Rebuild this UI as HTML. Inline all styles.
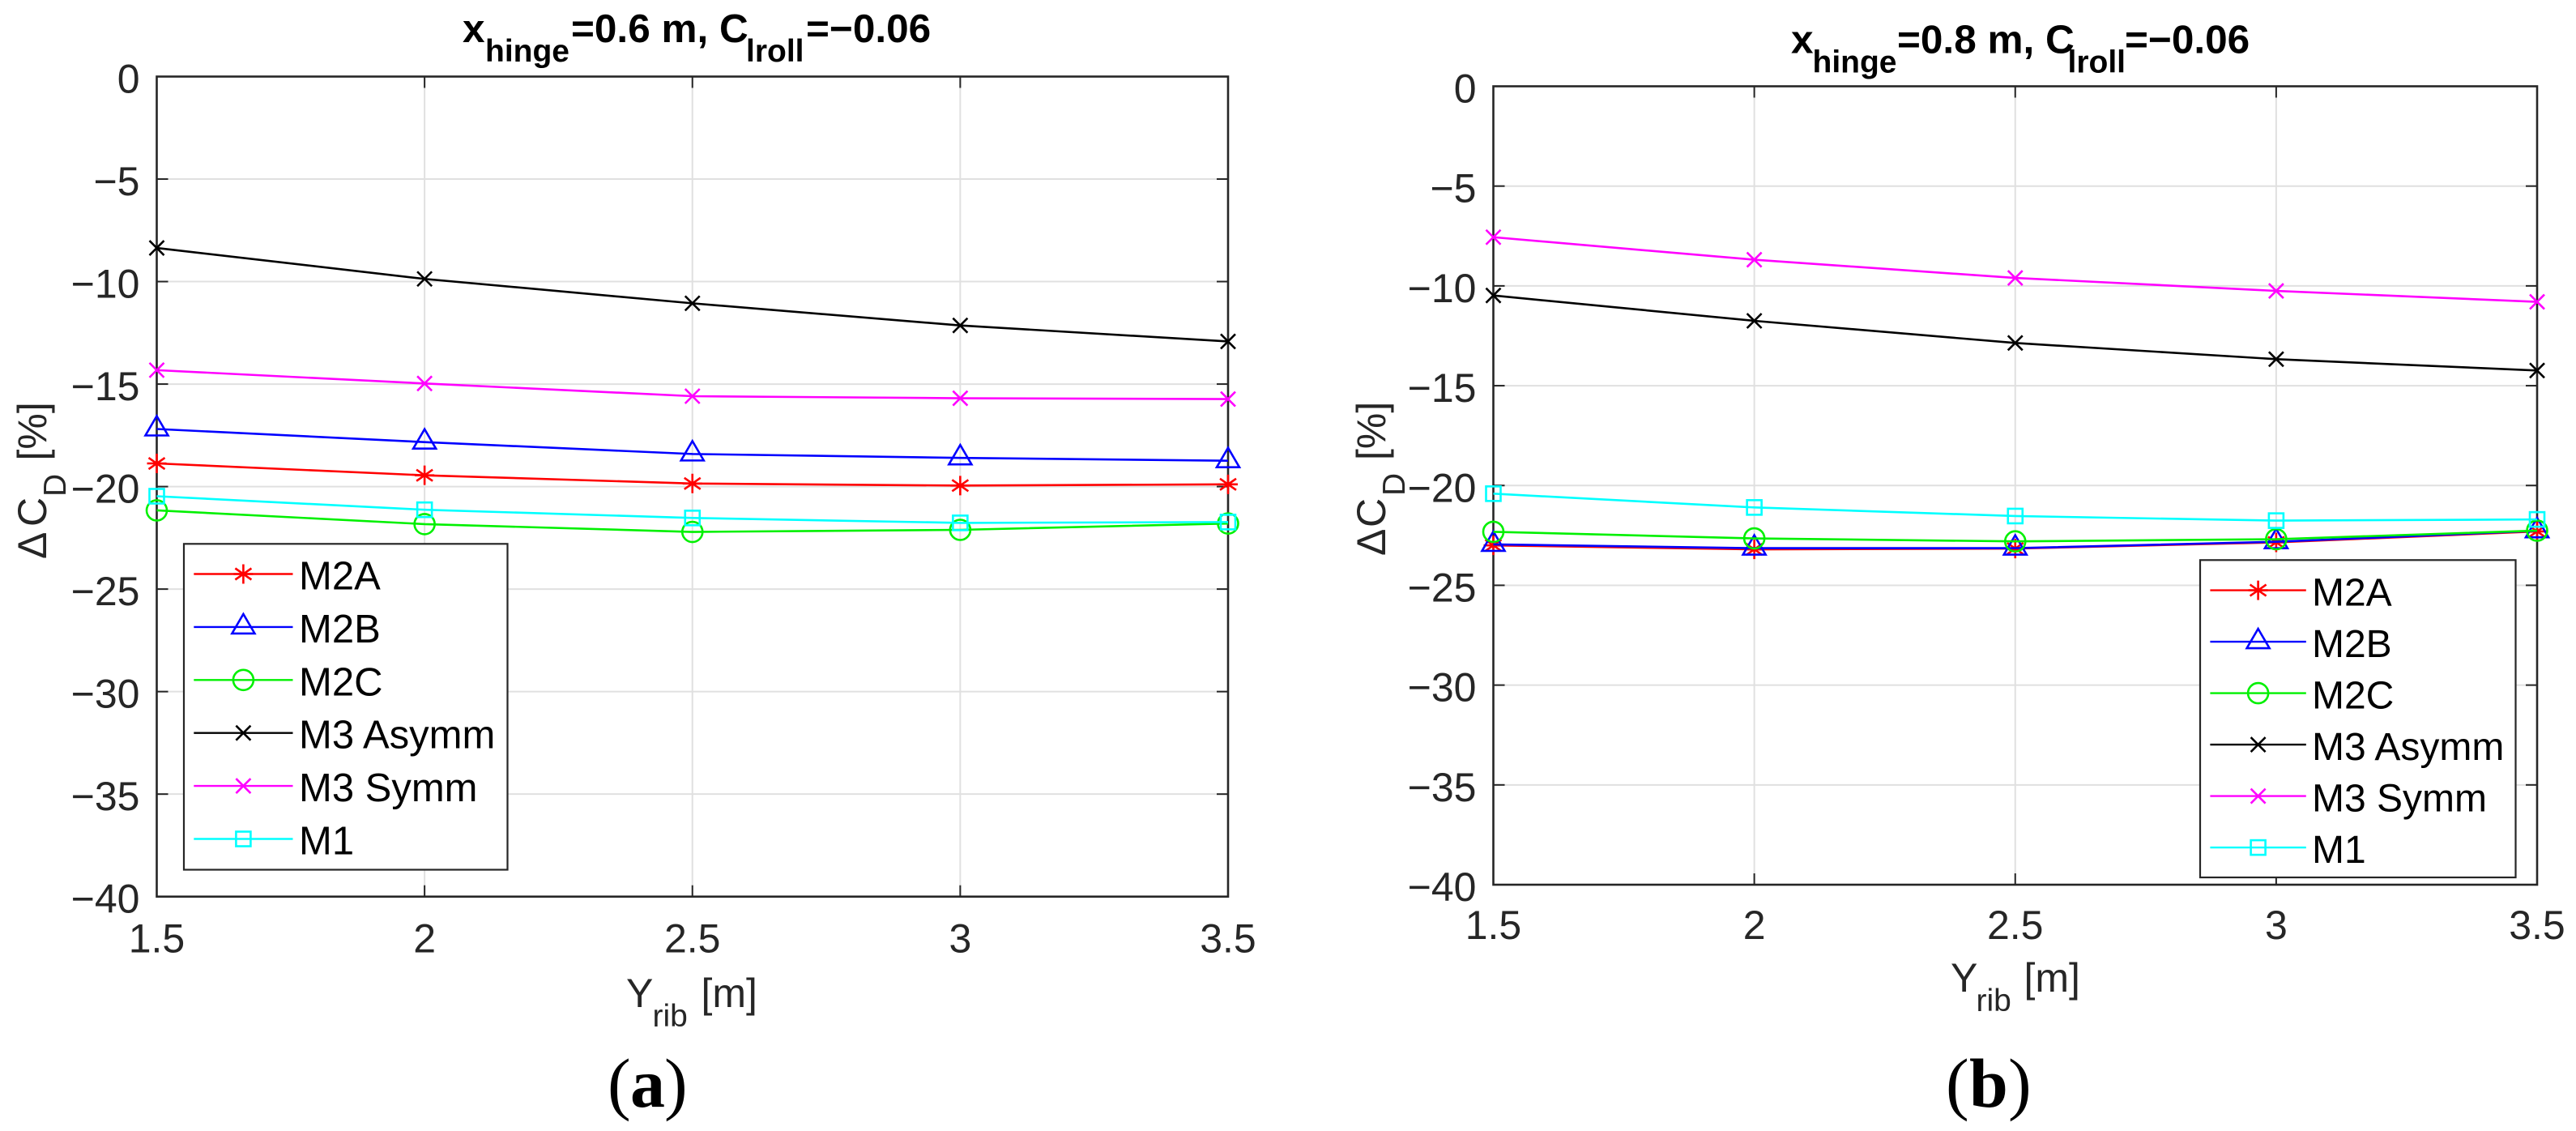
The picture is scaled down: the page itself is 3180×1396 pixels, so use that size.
<!DOCTYPE html>
<html lang="en">
<head>
<meta charset="utf-8">
<title>Delta CD vs Yrib</title>
<style>
  html, body { margin: 0; padding: 0; background: #fff; }
  svg { display: block; }
  text { font-family: "Liberation Sans", sans-serif; fill: #262626; }
  .title { font-weight: bold; font-size: 49.5px; fill: #000; }
  .title-sub { font-weight: bold; font-size: 39px; fill: #000; }
  .lab { font-size: 50px; }
  .lab-sub { font-size: 39px; }
  .cap { font-family: "Liberation Serif", serif; font-size: 86px; fill: #000; }
  .cap-b { font-family: "Liberation Serif", serif; font-size: 86px; font-weight: bold; fill: #000; }
</style>
</head>
<body>
<svg id="figure" xmlns="http://www.w3.org/2000/svg" width="3180" height="1396" viewBox="0 0 3180 1396">
  <rect x="0" y="0" width="3180" height="1396" fill="#ffffff"/>
  <g id="panelA"></g>
  <g id="panelB"></g>

  <g>
    <text class="title" x="571" y="52">x</text>
    <text class="title-sub" x="599" y="76">hinge</text>
    <text class="title" x="705" y="52">=0.6 m, C</text>
    <text class="title-sub" x="921" y="76">lroll</text>
    <text class="title" x="995" y="52">=−0.06</text>
  </g>
  <g>
    <text class="title" x="2211" y="65.7">x</text>
    <text class="title-sub" x="2237.5" y="89.5">hinge</text>
    <text class="title" x="2342" y="65.7">=0.8 m, C</text>
    <text class="title-sub" x="2552.5" y="89.5">lroll</text>
    <text class="title" x="2623" y="65.7">=−0.06</text>
  </g>

  <g>
    <text class="lab" transform="translate(57,690) rotate(-90)">Δ</text>
    <text class="lab" transform="translate(57,650) rotate(-90)">C</text>
    <text class="lab-sub" transform="translate(81,613) rotate(-90)">D</text>
    <text class="lab" transform="translate(57,568.5) rotate(-90)">[%]</text>
  </g>
  <g>
    <text class="lab" transform="translate(1710,686) rotate(-90)">Δ</text>
    <text class="lab" transform="translate(1710,651) rotate(-90)">C</text>
    <text class="lab-sub" transform="translate(1734,612) rotate(-90)">D</text>
    <text class="lab" transform="translate(1710,568) rotate(-90)">[%]</text>
  </g>

  <g>
    <text class="lab" x="773" y="1243">Y</text>
    <text class="lab-sub" x="805.5" y="1267">rib</text>
    <text class="lab" x="865.5" y="1243">[m]</text>
  </g>
  <g>
    <text class="lab" x="2408" y="1224">Y</text>
    <text class="lab-sub" x="2439.5" y="1248">rib</text>
    <text class="lab" x="2498.5" y="1224">[m]</text>
  </g>

  <g>
    <text class="cap" x="750" y="1366">(</text>
    <text class="cap-b" x="778" y="1366">a</text>
    <text class="cap" x="820" y="1366">)</text>
  </g>
  <g>
    <text class="cap" x="2402" y="1366">(</text>
    <text class="cap-b" x="2431" y="1366">b</text>
    <text class="cap" x="2479" y="1366">)</text>
  </g>
</svg>

<script>
const yRibValues = [1.5, 2, 2.5, 3, 3.5];
const xTickLabels = ['1.5', '2', '2.5', '3', '3.5'];
const yTickValues = [0, -5, -10, -15, -20, -25, -30, -35, -40];
const yTickLabels = ['0', '−5', '−10', '−15', '−20', '−25', '−30', '−35', '−40'];
const seriesNames = ['M2A', 'M2B', 'M2C', 'M3 Asymm', 'M3 Symm', 'M1'];
const seriesColors = ['#ff0000', '#0000ff', '#00f000', '#000000', '#ff00ff', '#00ffff'];
const seriesMarkers = ['star', 'triangle', 'circle', 'x', 'x', 'square'];

const panelA_M2A = [-18.87, -19.45, -19.85, -19.95, -19.89];
const panelA_M2B = [-17.19, -17.83, -18.41, -18.60, -18.74];
const panelA_M2C = [-21.16, -21.83, -22.21, -22.11, -21.80];
const panelA_M3Asymm = [-8.36, -9.87, -11.06, -12.14, -12.92];
const panelA_M3Symm = [-14.32, -14.97, -15.59, -15.69, -15.73];
const panelA_M1 = [-20.47, -21.13, -21.53, -21.77, -21.73];

const panelB_M2A = [-23.00, -23.20, -23.16, -22.85, -22.30];
const panelB_M2B = [-22.95, -23.14, -23.14, -22.82, -22.27];
const panelB_M2C = [-22.32, -22.65, -22.80, -22.69, -22.26];
const panelB_M3Asymm = [-10.48, -11.75, -12.86, -13.67, -14.24];
const panelB_M3Symm = [-7.56, -8.69, -9.60, -10.25, -10.80];
const panelB_M1 = [-20.41, -21.10, -21.53, -21.76, -21.70];

const NS = 'http://www.w3.org/2000/svg';
const AXIS_COLOR = '#262626';
const GRID_COLOR = '#e0e0e0';

function make(tag, parent, attrs) {
  const el = document.createElementNS(NS, tag);
  for (const k in attrs) el.setAttribute(k, attrs[k]);
  parent.appendChild(el);
  return el;
}

function drawMarker(parent, kind, cx, cy, color) {
  const g = make('g', parent, { fill: 'none', stroke: color, 'stroke-width': 2.6 });
  
  
  if (kind === 'star') {
    const r = 12;
    const d = 10;
    make('path', g, { d: 'M' + cx + ' ' + (cy - r) + 'V' + (cy + r) + 'M' + (cx - r) + ' ' + cy + 'H' + (cx + r) +
      'M' + (cx - d) + ' ' + (cy - d * 0.7) + 'L' + (cx + d) + ' ' + (cy + d * 0.7) +
      'M' + (cx - d) + ' ' + (cy + d * 0.7) + 'L' + (cx + d) + ' ' + (cy - d * 0.7) });
  } else if (kind === 'triangle') {
    make('path', g, { d: 'M' + cx + ' ' + (cy - 16) + 'L' + (cx + 14) + ' ' + (cy + 8) + 'H' + (cx - 14) + 'Z' });
  } else if (kind === 'circle') {
    make('circle', g, { cx: cx, cy: cy, r: 12.5 });
  } else if (kind === 'x') {
    const r = 9;
    make('path', g, { d: 'M' + (cx - r) + ' ' + (cy - r) + 'L' + (cx + r) + ' ' + (cy + r) +
      'M' + (cx - r) + ' ' + (cy + r) + 'L' + (cx + r) + ' ' + (cy - r) });
  } else if (kind === 'square') {
    make('rect', g, { x: cx - 9, y: cy - 9, width: 18, height: 18 });
  }
}

function drawPanel(root, box, series, legend, labels) {
  const xScale = v => box.left + (v - yRibValues[0]) / (yRibValues[yRibValues.length - 1] - yRibValues[0]) * (box.right - box.left);
  const yScale = v => box.top + (yTickValues[0] - v) / (yTickValues[0] - yTickValues[yTickValues.length - 1]) * (box.bottom - box.top);

  const grid = make('g', root, { stroke: GRID_COLOR, 'stroke-width': 2 });
  
  
  const ticks = make('g', root, { stroke: AXIS_COLOR, 'stroke-width': 2 });
  
  

  yRibValues.forEach((v, i) => {
    const x = xScale(v);
    if (i > 0 && i < yRibValues.length - 1) {
      const line = make('line', grid, { x1: x, x2: x, y1: box.top, y2: box.bottom });
      
      
      const t1 = make('line', ticks, { x1: x, x2: x, y1: box.top, y2: box.top + 14 });
      
      
      const t2 = make('line', ticks, { x1: x, x2: x, y1: box.bottom, y2: box.bottom - 14 });
      
      
    }
    const label = make('text', root, { x: x, y: box.bottom + labels.xOffset, 'text-anchor': 'middle', 'font-size': 50 });
    
    
    label.textContent = xTickLabels[i];
  });

  yTickValues.forEach((v, i) => {
    const y = yScale(v);
    if (i > 0 && i < yTickValues.length - 1) {
      const line = make('line', grid, { x1: box.left, x2: box.right, y1: y, y2: y });
      
      
      const t1 = make('line', ticks, { x1: box.left, x2: box.left + 14, y1: y, y2: y });
      
      
      const t2 = make('line', ticks, { x1: box.right, x2: box.right - 14, y1: y, y2: y });
      
      
    }
    const label = make('text', root, { x: box.left - 21, y: y + 20, 'text-anchor': 'end', 'font-size': 50 });
    
    
    label.textContent = yTickLabels[i];
  });

  const frame = make('rect', root, { x: box.left, y: box.top, width: box.right - box.left, height: box.bottom - box.top,
    fill: 'none', stroke: AXIS_COLOR, 'stroke-width': 2.6 });
  
  

  series.forEach((values, s) => {
    const g = make('g', root, {});
    
    
    const pts = values.map((v, i) => xScale(yRibValues[i]) + ',' + yScale(v)).join(' ');
    const line = make('polyline', g, { points: pts, fill: 'none', stroke: seriesColors[s], 'stroke-width': 2.6 });
    
    
    values.forEach((v, i) => drawMarker(g, seriesMarkers[s], xScale(yRibValues[i]), yScale(v), seriesColors[s]));
  });

  const lg = make('g', root, {});
  
  
  const lbox = make('rect', lg, { x: legend.left, y: legend.top, width: legend.right - legend.left, height: legend.bottom - legend.top,
    fill: '#ffffff', stroke: AXIS_COLOR, 'stroke-width': 2.2 });
  
  
  seriesNames.forEach((name, s) => {
    const y = legend.firstRow + s * legend.rowStep;
    const entry = make('g', lg, {});
    
    
    const sample = make('line', entry, { x1: legend.lineStart, x2: legend.lineEnd, y1: y, y2: y, stroke: seriesColors[s], 'stroke-width': 2.4 });
    
    
    drawMarker(entry, seriesMarkers[s], (legend.lineStart + legend.lineEnd) / 2, y, seriesColors[s]);
    const text = make('text', entry, { x: legend.textX, y: y + 19, 'font-size': legend.fontSize, style: 'fill:#000' });
    
    
    text.textContent = name;
  });
}

drawPanel(document.getElementById('panelA'),
  { left: 193.5, right: 1516, top: 94.5, bottom: 1106.7 },
  [panelA_M2A, panelA_M2B, panelA_M2C, panelA_M3Asymm, panelA_M3Symm, panelA_M1],
  { left: 227, right: 626.5, top: 671.3, bottom: 1073.5, firstRow: 708.5, rowStep: 65.4, lineStart: 239.3, lineEnd: 361.5, textX: 369, fontSize: 49 },
  { xOffset: 69 });

drawPanel(document.getElementById('panelB'),
  { left: 1843.5, right: 3132, top: 106.5, bottom: 1092 },
  [panelB_M2A, panelB_M2B, panelB_M2C, panelB_M3Asymm, panelB_M3Symm, panelB_M1],
  { left: 2716, right: 3105.5, top: 691.3, bottom: 1083, firstRow: 728.6, rowStep: 63.5, lineStart: 2728.4, lineEnd: 2846.8, textX: 2854, fontSize: 48 },
  { xOffset: 67 });
</script>
</body>
</html>
